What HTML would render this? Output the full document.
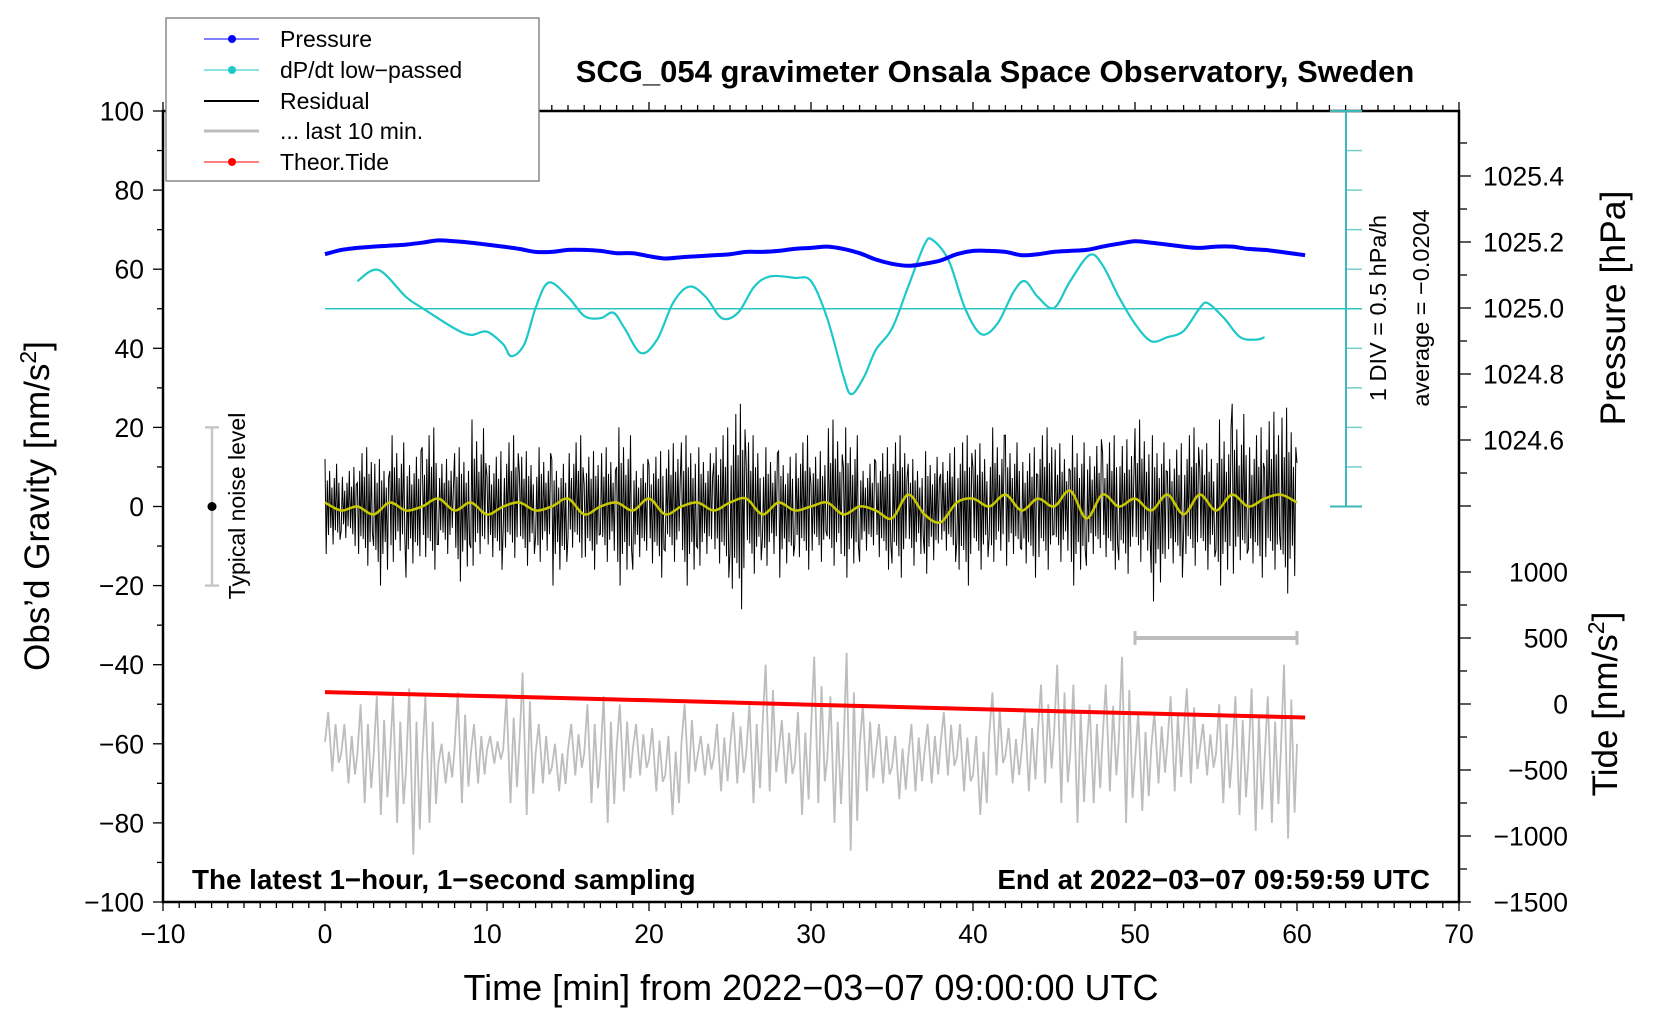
<!DOCTYPE html>
<html><head><meta charset="utf-8"><title>SCG_054 gravimeter</title>
<style>
html,body{margin:0;padding:0;background:#fff;}
svg{display:block;font-family:"Liberation Sans",Arial,sans-serif;}
</style></head>
<body>
<svg id="chart" width="1660" height="1020" viewBox="0 0 1660 1020" xmlns="http://www.w3.org/2000/svg">
<rect x="0" y="0" width="1660" height="1020" fill="#fff"/>
<g id="axes"></g>
<g id="marks"></g>
<g id="labels"></g>
</svg>
<script>
// ---------- data ----------
const xTicks = [-10,0,10,20,30,40,50,60,70];
const yTicks = [100,80,60,40,20,0,-20,-40,-60,-80,-100];
const pTicks = [1025.4,1025.2,1025.0,1024.8,1024.6];
const tideTicks = [1000,500,0,-500,-1000,-1500];

const pressureMin = [0,1,2,3,4,5,6,7,8,9,10,11,12,13,14,15,16,17,18,19,20,21,22,23,24,25,26,27,28,29,30,31,32,33,34,35,36,37,38,39,40,41,42,43,44,45,46,47,48,49,50,51,52,53,54,55,56,57,58,59,60.5];
const pressureHpa = [1025.163,1025.176,1025.182,1025.186,1025.189,1025.192,1025.198,1025.205,1025.202,1025.198,1025.192,1025.186,1025.179,1025.170,1025.170,1025.176,1025.176,1025.173,1025.166,1025.166,1025.157,1025.150,1025.154,1025.157,1025.160,1025.163,1025.170,1025.170,1025.173,1025.179,1025.182,1025.186,1025.179,1025.166,1025.147,1025.134,1025.128,1025.134,1025.144,1025.163,1025.173,1025.173,1025.170,1025.160,1025.163,1025.170,1025.173,1025.176,1025.186,1025.195,1025.202,1025.198,1025.192,1025.186,1025.182,1025.186,1025.186,1025.179,1025.176,1025.170,1025.160];

const dpdtMin = [2,3.3,5,6,8,9,10,11,11.5,12.3,13,13.8,15,16,17,17.8,18.5,19.5,20.5,21.5,22.5,23.5,24.5,25.5,26.5,27.5,29,30,31,32,32.5,33.3,34,35,36,37,37.5,38.5,39.5,40.5,41.5,42.5,43.2,44,45,46,47.2,48,49,50,51,52,53,54,54.5,55.5,56.5,57.5,58];
const dpdtVal = [0.35,0.49,0.15,0.01,-0.25,-0.33,-0.29,-0.45,-0.60,-0.45,0.01,0.33,0.15,-0.09,-0.12,-0.05,-0.25,-0.56,-0.39,0.08,0.28,0.15,-0.12,-0.05,0.28,0.41,0.39,0.35,-0.12,-0.85,-1.08,-0.85,-0.52,-0.25,0.28,0.81,0.87,0.61,0.01,-0.32,-0.19,0.21,0.35,0.15,0.01,0.35,0.68,0.55,0.15,-0.19,-0.41,-0.36,-0.28,0.01,0.07,-0.12,-0.36,-0.39,-0.36];

const resMax = [12,10,15,12,18,14,20,12,15,22,14,18,14,15,12,18,14,15,20,12,14,16,18,15,20,26,18,15,14,18,14,22,20,12,15,18,12,14,15,18,16,20,18,15,20,16,18,17,18,17,22,18,16,20,16,22,26,20,24,25,22];
const resMin = [-12,-10,-15,-20,-14,-18,-16,-12,-19,-15,-16,-13,-15,-14,-20,-13,-16,-14,-20,-16,-18,-14,-20,-15,-18,-26,-17,-15,-18,-16,-14,-15,-18,-14,-16,-18,-15,-17,-14,-20,-16,-14,-15,-18,-16,-14,-20,-15,-16,-17,-14,-24,-18,-15,-16,-20,-17,-18,-16,-22,-15];
const lowpass = [1,-1,0,-2,1,-1,0,2,-1,1,-2,0,1,-1,0,2,-2,0,1,-1,2,-2,0,1,-1,1,2,-2,1,-1,0,1,-2,0,-1,-3,3,-2,-4,1,2,0,3,-1,2,0,4,-3,3,0,2,-1,3,-2,3,-1,3,0,2,3,1];

const grayMax = [-52,-55,-50,-48,-48,-46,-48,-60,-47,-55,-58,-48,-42,-55,-60,-55,-50,-48,-50,-55,-56,-58,-50,-58,-55,-52,-50,-40,-54,-52,-38,-48,-37,-50,-55,-58,-55,-55,-52,-55,-58,-47,-56,-52,-45,-40,-45,-50,-45,-38,-52,-52,-48,-46,-55,-50,-48,-46,-48,-40,-55];
const grayMin = [-67,-70,-75,-78,-80,-88,-80,-70,-75,-70,-65,-75,-78,-70,-72,-68,-75,-80,-72,-68,-72,-78,-70,-68,-72,-70,-75,-72,-70,-78,-75,-80,-87,-72,-70,-74,-72,-70,-68,-72,-78,-68,-70,-72,-70,-75,-80,-75,-72,-80,-77,-70,-72,-70,-68,-75,-78,-82,-80,-84,-65];

const tideMin = [0,10,20,30,40,50,60.5];
const tideVal = [90,60,28,-5,-38,-70,-102];

// ---------- scales ----------
const L=163,R=1459,T=111,B=902;
const X = m => L + (m+10)*(R-L)/80;
const Y = g => T + (100-g)*(B-T)/200;
const YP = p => 308 - (p-1025.0)*330;
const YT = t => 704 - t*(66/500);
const YD = d => Y(50 + d*20);

const NS="http://www.w3.org/2000/svg";
function el(tag, attrs, parent){const e=document.createElementNS(NS,tag);for(const k in attrs)e.setAttribute(k,attrs[k]);parent.appendChild(e);return e;}
const axes=document.getElementById('axes'),marks=document.getElementById('marks'),labels=document.getElementById('labels');

for(let m=-10;m<=70;m++){
  const len = m%10===0?9:6;
  const tb=el('line',{x1:X(m),x2:X(m),y1:B,y2:B+len,stroke:'#000','stroke-width':1.3},axes);
  
  
  const tt=el('line',{x1:X(m),x2:X(m),y1:T,y2:T-len,stroke:'#000','stroke-width':1.3},axes);
  
  
}
xTicks.forEach(v=>{
  const t=el('text',{x:X(v),y:B+41,'text-anchor':'middle','font-size':26.5},labels);
  t.textContent=(v<0?'\u2212'+(-v):v);
  
  
});
for(let g=-100;g<=100;g+=10){
  const tk=el('line',{x1:L,x2:L-(g%20===0?10:6),y1:Y(g),y2:Y(g),stroke:'#000','stroke-width':1.3},axes);
  
  
}
yTicks.forEach(v=>{
  const t=el('text',{x:L-19,y:Y(v)+9.5,'text-anchor':'end','font-size':26.5},labels);
  t.textContent=(v<0?'\u2212'+(-v):v);
  
  
});
for(let p=1024.4;p<=1025.56;p+=0.1){
  const tk=el('line',{x1:R,x2:R+(Math.round(p*10)%2===0?12:8),y1:YP(p),y2:YP(p),stroke:'#000','stroke-width':1.3},axes);
  
  
}
pTicks.forEach(v=>{
  const t=el('text',{x:R+24,y:YP(v)+9.5,'font-size':26.5},labels);
  t.textContent=v.toFixed(1);
  
  
});
for(let t=-1500;t<=1000;t+=250){
  const tk=el('line',{x1:R,x2:R+(t%500===0?12:8),y1:YT(t),y2:YT(t),stroke:'#000','stroke-width':1.3},axes);
  
  
}
tideTicks.forEach(v=>{
  const t=el('text',{x:1568,y:YT(v)+9.5,'text-anchor':'end','font-size':26.5},labels);
  t.textContent=(v<0?'\u2212'+(-v):v);
  
  
});
const frame=el('rect',{x:L,y:T,width:R-L,height:B-T,fill:'none',stroke:'#000','stroke-width':2.5},axes);



const sx=1346;
const sb=el('line',{x1:sx,x2:sx,y1:T,y2:Y(0),stroke:'#3cb8b8','stroke-width':2},marks);


for(let g=100;g>=0;g-=10){
  const cap = (g===100||g===0);
  const tk=el('line',{x1:cap?sx-16:sx,x2:sx+16,y1:Y(g),y2:Y(g),stroke:'#3cb8b8','stroke-width':cap?2:1.5,opacity:cap?1:0.7},marks);
  
  
}
const zl=el('line',{x1:X(0),x2:sx+16,y1:YD(0),y2:YD(0),stroke:'#2ec4c4','stroke-width':1.5},marks);



function smoothPath(xs,ys){
  let d='M'+xs[0].toFixed(1)+','+ys[0].toFixed(1);
  for(let i=0;i<xs.length-1;i++){
    const x0=xs[Math.max(0,i-1)],y0=ys[Math.max(0,i-1)],x1=xs[i],y1=ys[i],x2=xs[i+1],y2=ys[i+1],x3=xs[Math.min(xs.length-1,i+2)],y3=ys[Math.min(xs.length-1,i+2)];
    d+=' C'+(x1+(x2-x0)/6).toFixed(1)+','+(y1+(y2-y0)/6).toFixed(1)+' '+(x2-(x3-x1)/6).toFixed(1)+','+(y2-(y3-y1)/6).toFixed(1)+' '+x2.toFixed(1)+','+y2.toFixed(1);
  }
  return d;
}

let gp=[];
for(let i=0;i<grayMax.length;i++){
  const mid=(grayMax[i]+grayMin[i])/2;
  gp.push([X(i),Y(mid)],[X(i+0.2),Y(grayMax[i])],[X(i+0.45),Y(grayMin[i])],[X(i+0.65),Y(mid+(grayMax[i]-mid)*0.6)],[X(i+0.85),Y(mid+(grayMin[i]-mid)*0.7)]);
}
gp=gp.filter(p=>p[0]<=X(60));
const gl=el('polyline',{points:gp.map(p=>p[0].toFixed(1)+','+p[1].toFixed(1)).join(' '),fill:'none',stroke:'#bdbdbd','stroke-width':1.8},marks);


const rb=el('line',{x1:X(50),x2:X(60),y1:638,y2:638,stroke:'#bdbdbd','stroke-width':4},marks);


[50,60].forEach(m=>{
  const c=el('line',{x1:X(m),x2:X(m),y1:631,y2:645,stroke:'#bdbdbd','stroke-width':3},marks);
  
  
});

const tl=el('polyline',{points:tideMin.map((m,i)=>X(m).toFixed(1)+','+YT(tideVal[i]).toFixed(1)).join(' '),fill:'none',stroke:'#ff0000','stroke-width':4},marks);



const pat=[1,-1,0.55,-0.6,0.75,-0.45,0.4,-0.8,0.6,-0.5,0.9,-0.55,0.5,-0.7];
let rp=[];
for(let i=0;i<resMax.length;i++){
  const n=pat.length;
  for(let k=0;k<n;k++){
    const m=i+k/n; if(m>60) break;
    const f=pat[(k+i*3)%n];
    rp.push([X(m), Y(f>0?f*resMax[i]:-f*resMin[i])]);
  }
}
const rl=el('polyline',{points:rp.map(p=>p[0].toFixed(1)+','+p[1].toFixed(1)).join(' '),fill:'none',stroke:'#000','stroke-width':1},marks);


const rxs=lowpass.map((v,i)=>X(i)), rys=lowpass.map(v=>Y(v));
const yl=el('path',{d:smoothPath(rxs,rys),fill:'none',stroke:'#c8c800','stroke-width':2.5},marks);



const cl=el('path',{d:smoothPath(dpdtMin.map(X),dpdtVal.map(YD)),fill:'none',stroke:'#1ec8c8','stroke-width':2.2},marks);



const pl=el('path',{d:smoothPath(pressureMin.map(X),pressureHpa.map(YP)),fill:'none',stroke:'#0000ff','stroke-width':4},marks);



const nb=el('line',{x1:212,x2:212,y1:Y(20),y2:Y(-20),stroke:'#c8c8c8','stroke-width':2.5},marks);


[20,-20].forEach(g=>{
  const c=el('line',{x1:205,x2:219,y1:Y(g),y2:Y(g),stroke:'#c8c8c8','stroke-width':2.5},marks);
  
  
});
const nd=el('circle',{cx:212,cy:Y(0),r:4.5,fill:'#000'},marks);


</script>
<div style="position:absolute;left:0;top:0;width:1660px;height:1020px;pointer-events:none">
<svg width="1660" height="1020" style="font-family:'Liberation Sans',Arial,sans-serif">
<text x="995" y="82" text-anchor="middle" font-size="31" font-weight="bold">SCG_054 gravimeter Onsala Space Observatory, Sweden</text>
<text x="192" y="889" font-size="27.8" font-weight="bold">The latest 1−hour, 1−second sampling</text>
<text x="1430" y="889" text-anchor="end" font-size="27.8" font-weight="bold">End at 2022−03−07 09:59:59 UTC</text>
<text x="811" y="1000" text-anchor="middle" font-size="36">Time [min] from 2022−03−07 09:00:00 UTC</text>
<text transform="translate(49,506) rotate(-90)" text-anchor="middle" font-size="35">Obs’d Gravity [nm/s<tspan font-size="23" dy="-13">2</tspan><tspan dy="13">]</tspan></text>
<text transform="translate(1625,308) rotate(-90)" text-anchor="middle" font-size="35.5">Pressure [hPa]</text>
<text transform="translate(1617,704) rotate(-90)" text-anchor="middle" font-size="35">Tide [nm/s<tspan font-size="23" dy="-13">2</tspan><tspan dy="13">]</tspan></text>
<text transform="translate(1386,308) rotate(-90)" text-anchor="middle" font-size="23.5">1 DIV = 0.5 hPa/h</text>
<text transform="translate(1429,308) rotate(-90)" text-anchor="middle" font-size="23.5">average = −0.0204</text>
<text transform="translate(245,506) rotate(-90)" text-anchor="middle" font-size="23">Typical noise level</text>
<g>
<rect x="166" y="18" width="373" height="163" fill="#fff" stroke="#777" stroke-width="1.3"/>
<g><line x1="204" y1="39" x2="259" y2="39" stroke="#0000ff" stroke-width="1"/><circle cx="232" cy="39" r="4" fill="#0000ff"/><text x="280" y="47" font-size="23">Pressure</text></g>
<g><line x1="204" y1="70" x2="259" y2="70" stroke="#1ec8c8" stroke-width="1"/><circle cx="232" cy="70" r="4" fill="#1ec8c8"/><text x="280" y="78" font-size="23">dP/dt low−passed</text></g>
<g><line x1="204" y1="101" x2="259" y2="101" stroke="#000" stroke-width="2"/><text x="280" y="109" font-size="23">Residual</text></g>
<g><line x1="204" y1="131" x2="259" y2="131" stroke="#bdbdbd" stroke-width="3"/><text x="280" y="139" font-size="23">... last 10 min.</text></g>
<g><line x1="204" y1="162" x2="259" y2="162" stroke="#ff0000" stroke-width="1"/><circle cx="232" cy="162" r="4" fill="#ff0000"/><text x="280" y="170" font-size="23">Theor.Tide</text></g>
</g>
</svg>
</div>
</body></html>
